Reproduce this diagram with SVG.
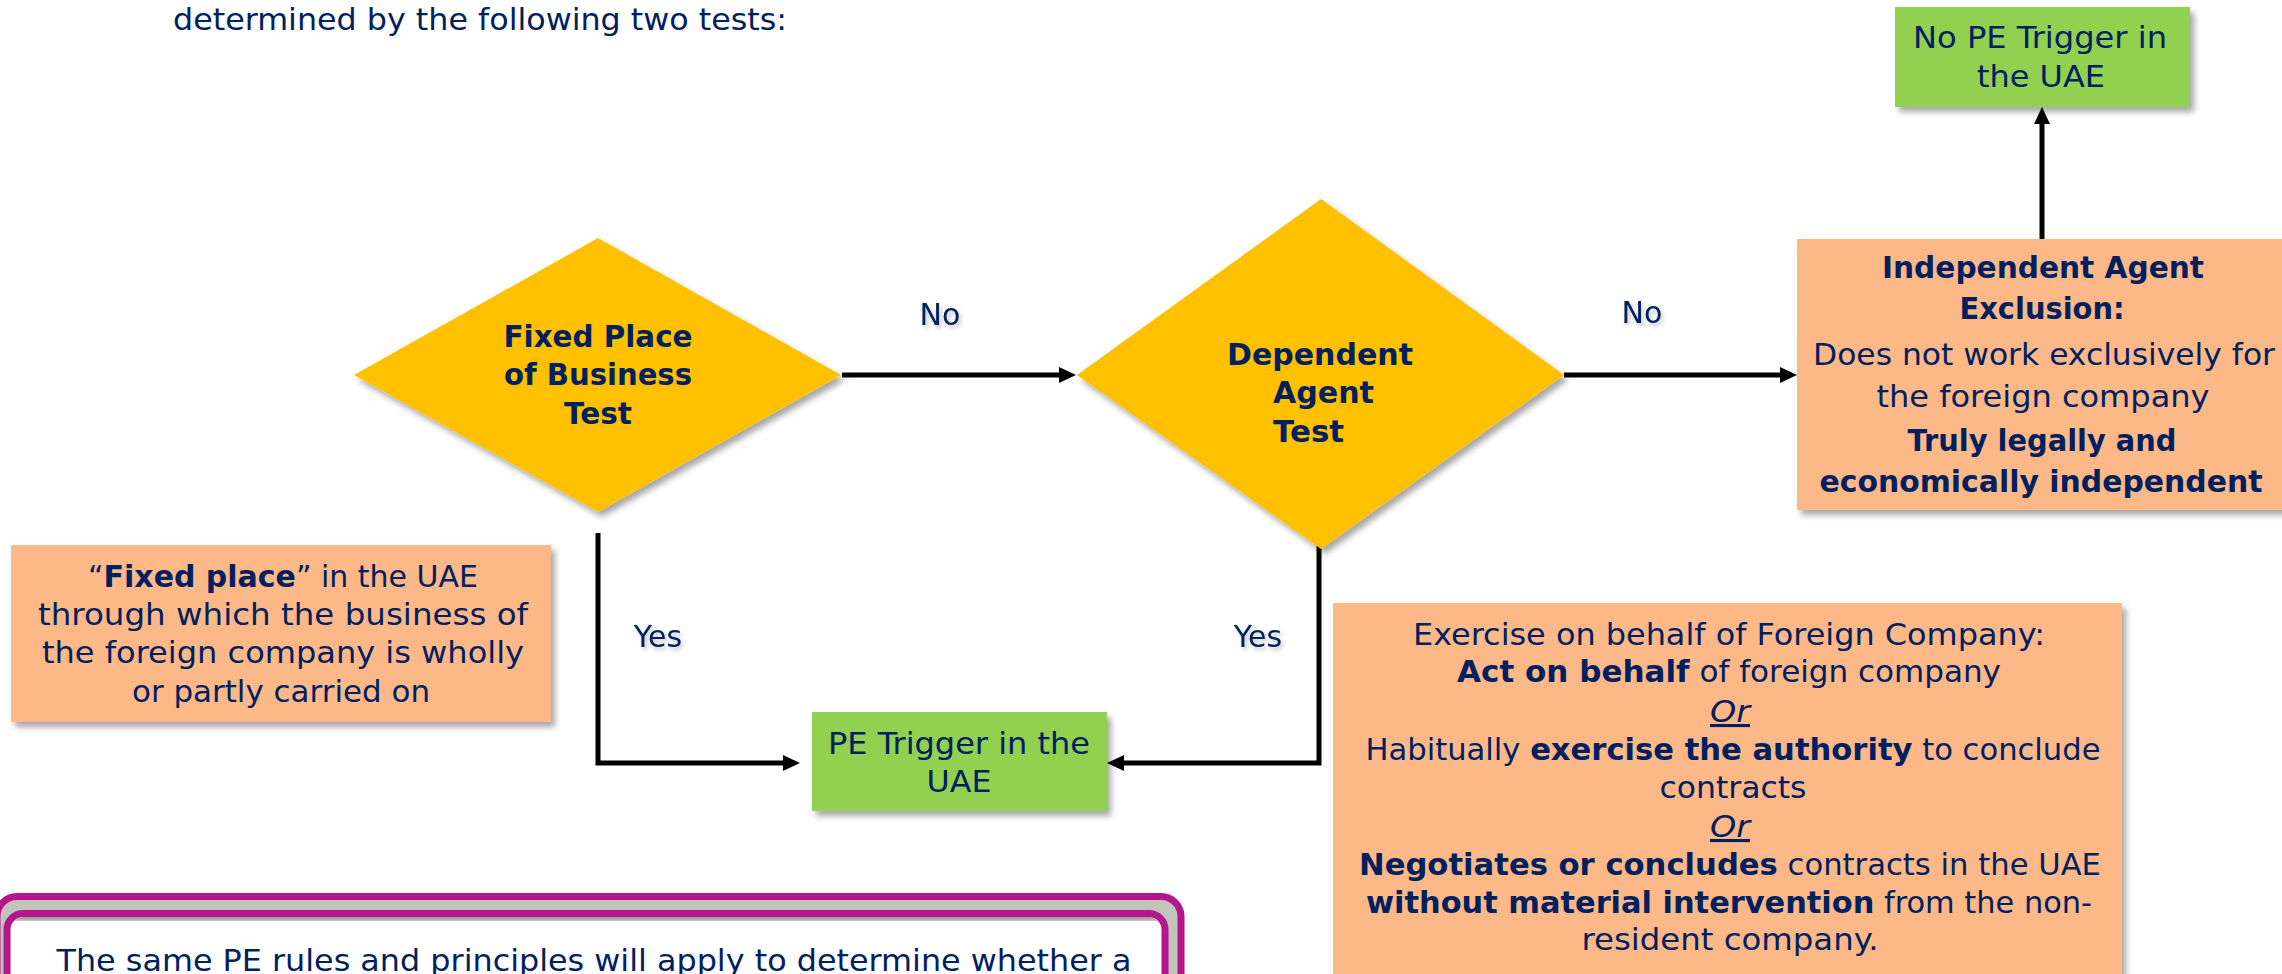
<svg xmlns="http://www.w3.org/2000/svg" width="2282" height="974" viewBox="0 0 2282 974">
<defs>
<style>
text{font-family:"DejaVu Sans",Verdana,sans-serif;fill:#002060;font-size:31px;}
.c{text-anchor:middle;}
.b{font-weight:bold;}
.orange{fill:#FDB888;}
.green{fill:#92D050;}
.dia{fill:#FFC000;}
.ln{fill:none;stroke:#000;stroke-width:5;stroke-linejoin:miter;}
.or{font-style:italic;text-decoration:underline;}
.lbl{font-size:30px;}
</style>
<marker id="ah" markerUnits="userSpaceOnUse" markerWidth="17" markerHeight="16" viewBox="0 0 17 16" refX="0" refY="8" orient="auto">
<path d="M0,0 L17,8 L0,16 Z" fill="#000"/>
</marker>
<filter id="sh" x="-10%" y="-10%" width="130%" height="130%">
<feDropShadow dx="4" dy="5" stdDeviation="3" flood-color="#000" flood-opacity="0.35"/>
</filter>
<filter id="tsh" x="-20%" y="-20%" width="150%" height="160%">
<feDropShadow dx="2" dy="3" stdDeviation="2" flood-color="#000" flood-opacity="0.25"/>
</filter>
<filter id="blur"><feGaussianBlur stdDeviation="3"/></filter>
<clipPath id="innerClip"><rect x="10.5" y="917" width="1151" height="80" rx="13"/></clipPath>
</defs>

<rect x="0" y="0" width="2282" height="974" fill="#fff"/>

<text id="intro" x="173" y="30" textLength="614" lengthAdjust="spacingAndGlyphs">determined by the following two tests:</text>

<g id="connectors">
<path class="ln" d="M842,375 H1059" marker-end="url(#ah)"/>
<path class="ln" d="M1564,375 H1780" marker-end="url(#ah)"/>
<path class="ln" d="M2042,239 V124" marker-end="url(#ah)"/>
<path class="ln" d="M598,533 V763 H783" marker-end="url(#ah)"/>
<path class="ln" d="M1319,546 V763 H1124" marker-end="url(#ah)"/>
<g filter="url(#tsh)">
<text class="lbl c" x="940" y="325">No</text>
<text class="lbl c" x="1642" y="323">No</text>
<text class="lbl c" x="658" y="647">Yes</text>
<text class="lbl c" x="1258" y="647">Yes</text>
</g>
</g>

<g id="node-fixed-place-test">
<polygon class="dia" points="598,238 841,375 598,512 354,375" filter="url(#sh)"/>
<text class="c b" font-size="30" x="598" y="347" textLength="189" lengthAdjust="spacingAndGlyphs">Fixed Place</text>
<text class="c b" font-size="30" x="598" y="385" textLength="188" lengthAdjust="spacingAndGlyphs">of Business</text>
<text class="c b" font-size="30" x="598" y="424" textLength="68" lengthAdjust="spacingAndGlyphs">Test</text>
</g>

<g id="node-dependent-agent-test">
<polygon class="dia" points="1321,199 1564,375 1321,549 1077,375" filter="url(#sh)"/>
<text class="b" font-size="30" x="1227" y="365" textLength="186" lengthAdjust="spacingAndGlyphs">Dependent</text>
<text class="b" font-size="30" x="1273" y="403" textLength="101" lengthAdjust="spacingAndGlyphs">Agent</text>
<text class="b" font-size="30" x="1273" y="442" textLength="71" lengthAdjust="spacingAndGlyphs">Test</text>
</g>

<g id="node-no-pe-trigger">
<rect class="green" x="1895" y="7" width="295" height="100" filter="url(#sh)"/>
<text class="c" x="2040" y="48" textLength="254" lengthAdjust="spacingAndGlyphs">No PE Trigger in</text>
<text class="c" x="2041" y="87" textLength="128" lengthAdjust="spacingAndGlyphs">the UAE</text>
</g>

<g id="node-independent-agent-exclusion">
<rect class="orange" x="1797" y="239" width="500" height="271" filter="url(#sh)"/>
<text class="c b" x="2043" y="278" textLength="322" lengthAdjust="spacingAndGlyphs">Independent Agent</text>
<text class="c b" x="2042" y="319" textLength="165" lengthAdjust="spacingAndGlyphs">Exclusion:</text>
<text class="c" x="2044" y="365" textLength="462" lengthAdjust="spacingAndGlyphs">Does not work exclusively for</text>
<text class="c" x="2043" y="407" textLength="333" lengthAdjust="spacingAndGlyphs">the foreign company</text>
<text class="c b" x="2042" y="451" textLength="269" lengthAdjust="spacingAndGlyphs">Truly legally and</text>
<text class="c b" x="2041" y="492" textLength="443" lengthAdjust="spacingAndGlyphs">economically independent</text>
</g>

<g id="node-fixed-place-definition">
<rect class="orange" x="11" y="545" width="540" height="177" filter="url(#sh)"/>
<text class="c" x="283" y="587" textLength="390" lengthAdjust="spacingAndGlyphs">“<tspan class="b">Fixed place</tspan>” in the UAE</text>
<text class="c" x="283" y="625" textLength="490" lengthAdjust="spacingAndGlyphs">through which the business of</text>
<text class="c" x="283" y="663" textLength="482" lengthAdjust="spacingAndGlyphs">the foreign company is wholly</text>
<text class="c" x="281" y="702" textLength="298" lengthAdjust="spacingAndGlyphs">or partly carried on</text>
</g>

<g id="node-pe-trigger">
<rect class="green" x="812" y="712" width="295" height="99" filter="url(#sh)"/>
<text class="c" x="959" y="754" textLength="262" lengthAdjust="spacingAndGlyphs">PE Trigger in the</text>
<text class="c" x="959" y="792" textLength="65" lengthAdjust="spacingAndGlyphs">UAE</text>
</g>

<g id="node-dependent-agent-definition">
<rect class="orange" x="1333" y="603" width="789" height="400" filter="url(#sh)"/>
<text class="c" x="1729" y="645" textLength="632" lengthAdjust="spacingAndGlyphs">Exercise on behalf of Foreign Company:</text>
<text class="c" x="1729" y="682" textLength="544" lengthAdjust="spacingAndGlyphs"><tspan class="b">Act on behalf</tspan> of foreign company</text>
<text class="c or" x="1730" y="722" textLength="40" lengthAdjust="spacingAndGlyphs">Or</text>
<text class="c" x="1733" y="760" textLength="735" lengthAdjust="spacingAndGlyphs">Habitually <tspan class="b">exercise the authority</tspan> to conclude</text>
<text class="c" x="1733" y="798" textLength="147" lengthAdjust="spacingAndGlyphs">contracts</text>
<text class="c or" x="1730" y="837" textLength="40" lengthAdjust="spacingAndGlyphs">Or</text>
<text class="c" x="1730" y="875" textLength="742" lengthAdjust="spacingAndGlyphs"><tspan class="b">Negotiates or concludes</tspan> contracts in the UAE</text>
<text class="c" x="1729" y="913" textLength="726" lengthAdjust="spacingAndGlyphs"><tspan class="b">without material intervention</tspan> from the non-</text>
<text class="c" x="1730" y="950" textLength="297" lengthAdjust="spacingAndGlyphs">resident company.</text>
</g>

<g id="node-same-rules-callout">
<rect x="-3" y="896.5" width="1184" height="140" rx="20" fill="#C3C3BD" stroke="#B5168B" stroke-width="7"/>
<rect x="7" y="913.5" width="1158" height="120" rx="16" fill="#fff" stroke="#B5168B" stroke-width="7"/>
<g clip-path="url(#innerClip)">
<rect x="5" y="912" width="1165" height="8" fill="#777" filter="url(#blur)"/>
</g>
<text class="c" x="594" y="971" textLength="1075" lengthAdjust="spacingAndGlyphs">The same PE rules and principles will apply to determine whether a</text>
</g>
</svg>
